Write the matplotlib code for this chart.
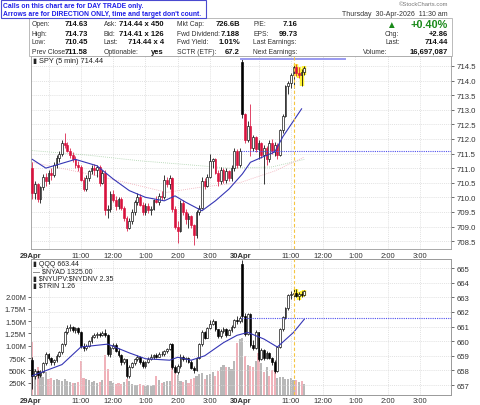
import matplotlib.pyplot as plt
from matplotlib.patches import Rectangle

plt.rcParams['font.family'] = ['Liberation Sans', 'DejaVu Sans']

W, H = 480, 406

# ---- SPY 5 min, 29 Apr (bars 0-77) + 30 Apr (bars 78-101)
spy_open = [711.00, 710.15, 710.45, 709.95, 710.35, 710.70, 710.55, 710.85, 710.75, 711.10,
            711.35, 711.50, 711.85, 711.80, 711.60, 711.45, 711.30, 711.10, 711.05, 710.60,
            710.30, 710.65, 710.90, 711.00, 710.95, 711.05, 710.50, 710.85, 709.55, 709.60,
            710.10, 709.90, 709.70, 709.95, 709.65, 709.30, 708.95, 709.20, 709.50, 709.85,
            710.00, 709.75, 709.50, 709.70, 709.55, 709.60, 709.90, 709.85, 710.05, 710.00,
            710.60, 710.45, 710.65, 709.60, 709.00, 708.85, 709.80, 709.50, 709.25, 709.35,
            709.05, 708.70, 709.50, 709.65, 710.55, 710.40, 710.70, 711.25, 711.30, 710.85,
            710.55, 710.95, 710.60, 710.90, 710.65, 711.00, 711.60, 711.10,
            714.63, 712.85, 711.95, 712.45, 711.70, 712.05, 711.65, 711.85, 711.45, 711.70,
            711.30, 711.85, 711.60, 711.80, 711.45, 712.30, 712.80, 713.80, 713.90, 714.20,
            714.45, 714.25, 714.20, 714.30]
spy_close = [710.15, 710.45, 709.95, 710.35, 710.70, 710.55, 710.85, 710.75, 711.10, 711.35,
             711.50, 711.85, 711.80, 711.60, 711.45, 711.30, 711.10, 711.05, 710.60, 710.30,
             710.65, 710.90, 711.00, 710.95, 711.05, 710.50, 710.85, 709.55, 709.60, 710.10,
             709.90, 709.70, 709.95, 709.65, 709.30, 708.95, 709.20, 709.50, 709.85, 710.00,
             709.75, 709.50, 709.70, 709.55, 709.60, 709.90, 709.85, 710.05, 710.00, 710.60,
             710.45, 710.65, 709.60, 709.00, 708.85, 709.80, 709.50, 709.25, 709.35, 709.05,
             708.70, 709.50, 709.65, 710.55, 710.40, 710.70, 711.25, 711.30, 710.85, 710.55,
             710.95, 710.60, 710.90, 710.65, 711.00, 711.60, 711.10, 711.58,
             712.85, 711.95, 712.45, 711.70, 712.05, 711.65, 711.85, 711.45, 711.70, 711.30,
             711.85, 711.60, 711.80, 711.45, 712.30, 712.80, 713.80, 713.90, 714.20, 714.45,
             714.25, 714.20, 714.30, 714.44]
spy_high = [711.20, 710.55, 710.50, 710.40, 710.80, 710.85, 710.95, 711.00, 711.20, 711.45,
            711.60, 711.95, 712.20, 711.90, 711.70, 711.55, 711.40, 711.25, 711.10, 710.70,
            710.75, 710.95, 711.10, 711.15, 711.10, 711.10, 710.95, 710.95, 709.75, 710.20,
            710.25, 710.05, 710.00, 710.00, 709.70, 709.35, 709.30, 709.60, 709.90, 710.15,
            710.10, 709.85, 709.80, 709.80, 709.70, 709.95, 710.05, 710.15, 710.20, 710.75,
            710.70, 710.75, 710.70, 709.70, 709.20, 709.90, 709.90, 709.60, 709.45, 709.40,
            709.10, 709.55, 709.75, 710.70, 710.65, 710.80, 711.50, 711.35, 711.35, 710.95,
            711.05, 711.00, 711.00, 710.95, 711.10, 711.70, 711.65, 711.70,
            714.73, 712.90, 712.60, 713.20, 712.15, 712.10, 711.95, 711.90, 711.80, 711.75,
            711.95, 712.00, 711.90, 711.85, 712.35, 712.85, 713.85, 714.00, 714.25, 714.55,
            714.55, 714.45, 714.40, 714.50]
spy_low = [709.95, 709.95, 709.85, 709.80, 710.25, 710.40, 710.45, 710.60, 710.70, 711.00,
           711.20, 711.40, 711.70, 711.55, 711.35, 711.20, 711.00, 710.90, 710.55, 710.20,
           710.20, 710.55, 710.80, 710.75, 710.70, 710.40, 710.45, 709.40, 709.30, 709.50,
           709.85, 709.55, 709.60, 709.55, 709.20, 708.85, 708.90, 709.10, 709.40, 709.75,
           709.70, 709.40, 709.40, 709.45, 709.40, 709.55, 709.80, 709.75, 709.90, 709.95,
           710.35, 710.30, 709.50, 708.90, 708.45, 708.80, 709.40, 709.10, 708.95, 708.95,
           708.35, 708.60, 709.40, 709.60, 710.30, 710.35, 710.65, 711.00, 710.80, 710.40,
           710.45, 710.50, 710.50, 710.55, 710.55, 710.90, 711.00, 711.05,
           712.70, 711.85, 711.90, 711.40, 711.60, 711.55, 711.30, 711.35, 710.45, 711.10,
           711.20, 711.50, 711.40, 711.30, 711.40, 712.20, 712.75, 713.55, 713.75, 713.75,
           714.15, 714.10, 713.80, 714.20]
spy_prior = 711.30

spy_ma_x = [0, 5, 16, 24, 30, 36, 42, 49, 53, 57, 63, 68, 73, 78, 81, 86, 90, 93, 100]
spy_ma_y = [711.30, 711.00, 711.30, 711.08, 710.63, 710.23, 710.00, 709.88, 710.05, 709.83,
            709.54, 709.88, 710.28, 710.80, 711.20, 711.40, 711.55, 712.07, 713.03]
spy_ma2_x = [0, 20, 40, 60, 73, 89, 101]
spy_ma2_y = [711.60, 711.45, 711.25, 711.10, 711.00, 711.04, 711.30]
spy_ma3_x = [0, 24, 50, 62, 77, 90, 101]
spy_ma3_y = [711.20, 710.74, 710.17, 710.34, 710.50, 710.90, 711.38]

# ---- QQQ 5 min
qqq_open = [658.70, 657.60, 657.95, 657.70, 657.90, 658.50, 659.15, 658.85, 658.55, 658.70,
            659.00, 659.25, 659.80, 660.60, 660.90, 661.00, 660.75, 660.90, 660.60, 659.70,
            659.50, 659.70, 660.00, 660.30, 660.40, 660.50, 660.40, 660.55, 660.45, 659.15,
            659.55, 659.75, 659.35, 659.05, 658.55, 658.75, 657.60, 658.25, 658.50, 658.75,
            658.95, 658.55, 658.30, 658.60, 658.80, 658.95, 659.05, 658.95, 659.15, 659.10,
            659.30, 659.45, 659.80, 658.25, 657.90, 658.30, 658.95, 658.75, 658.85, 658.60,
            658.20, 658.00, 658.85, 659.80, 660.60, 660.25, 660.90, 661.20, 661.35, 660.80,
            660.35, 660.70, 660.85, 660.45, 660.75, 661.00, 661.45, 661.35,
            665.30, 661.70, 660.50, 661.85, 659.75, 659.55, 660.60, 658.80, 659.40, 658.85,
            659.20, 658.85, 658.55, 657.95, 659.60, 660.80, 661.65, 662.25, 663.15, 663.20,
            663.30, 663.10, 663.25, 663.15]
qqq_close = [657.60, 657.95, 657.70, 657.90, 658.50, 659.15, 658.85, 658.55, 658.70, 659.00,
             659.25, 659.80, 660.60, 660.90, 661.00, 660.75, 660.90, 660.60, 659.70, 659.50,
             659.70, 660.00, 660.30, 660.40, 660.50, 660.40, 660.55, 660.45, 659.15, 659.55,
             659.75, 659.35, 659.05, 658.55, 658.75, 657.60, 658.25, 658.50, 658.75, 658.95,
             658.55, 658.30, 658.60, 658.80, 658.95, 659.05, 658.95, 659.15, 659.10, 659.30,
             659.45, 659.80, 658.25, 657.90, 658.30, 658.95, 658.75, 658.85, 658.60, 658.20,
             658.00, 658.85, 659.80, 660.60, 660.25, 660.90, 661.20, 661.35, 660.80, 660.35,
             660.70, 660.85, 660.45, 660.75, 661.00, 661.45, 661.35, 661.60,
             661.70, 660.50, 661.85, 659.75, 659.55, 660.60, 658.80, 659.40, 658.85, 659.20,
             658.85, 658.55, 657.95, 659.60, 660.80, 661.65, 662.25, 663.15, 663.20, 663.30,
             663.10, 663.25, 663.15, 663.44]
qqq_high = [658.90, 658.10, 658.05, 658.00, 658.60, 659.25, 659.20, 658.95, 658.80, 659.10,
            659.35, 659.90, 660.70, 661.10, 661.15, 661.05, 661.00, 660.95, 660.70, 659.85,
            659.80, 660.10, 660.40, 660.55, 660.60, 660.65, 660.70, 660.85, 660.50, 659.70,
            659.90, 659.85, 659.50, 659.15, 658.85, 658.80, 658.35, 658.60, 658.85, 659.05,
            659.00, 658.70, 658.65, 658.90, 659.10, 659.15, 659.20, 659.25, 659.30, 659.40,
            659.55, 659.90, 659.85, 658.40, 658.45, 659.10, 659.05, 658.95, 658.90, 658.70,
            658.30, 658.95, 659.90, 660.75, 660.70, 661.00, 661.45, 661.55, 661.40, 660.85,
            660.80, 660.95, 660.90, 660.85, 661.10, 661.55, 661.70, 661.75,
            665.55, 661.95, 661.95, 661.90, 660.10, 660.75, 660.65, 659.50, 659.45, 659.30,
            659.25, 658.95, 658.70, 659.70, 660.90, 661.75, 662.35, 663.25, 663.40, 663.65,
            663.55, 663.35, 663.45, 663.50]
qqq_low = [656.70, 657.40, 657.50, 657.55, 657.85, 658.40, 658.70, 658.40, 658.35, 658.60,
           658.90, 659.15, 659.70, 660.50, 660.70, 660.65, 660.55, 660.50, 659.55, 659.35,
           659.40, 659.60, 659.85, 660.20, 660.20, 660.30, 660.35, 660.30, 659.00, 658.90,
           659.45, 659.25, 658.95, 658.40, 658.45, 657.45, 657.50, 658.15, 658.40, 658.65,
           658.45, 658.20, 658.20, 658.50, 658.70, 658.80, 658.85, 658.90, 659.00, 659.00,
           659.20, 659.40, 658.10, 657.80, 657.75, 658.20, 658.65, 658.55, 658.50, 658.10,
           657.85, 657.95, 658.80, 659.70, 660.15, 660.20, 660.85, 661.10, 660.70, 660.20,
           660.25, 660.55, 660.30, 660.40, 660.60, 660.90, 661.20, 661.25,
           661.30, 660.35, 660.40, 659.60, 659.40, 659.45, 658.65, 658.70, 658.70, 658.75,
           658.75, 658.40, 657.80, 657.90, 659.50, 660.70, 661.55, 662.15, 662.90, 663.00,
           663.05, 662.80, 663.00, 663.10]
qqq_prior = 659.00
qqq_vol = [1070, 530, 560, 460, 360, 470, 330, 340, 300, 330,
           310, 280, 330, 290, 260, 250, 240, 260, 700, 350,
           330, 300, 260, 290, 240, 270, 300, 820, 530, 280,
           250, 230, 240, 220, 260, 330, 280, 220, 210, 200,
           220, 200, 190, 200, 190, 210, 390, 300, 250, 260,
           280, 290, 630, 450, 400, 280, 260, 300, 240, 330,
           350, 380, 420, 440, 330, 400, 430, 460, 380, 480,
           560, 600, 570, 560, 520, 700, 1050, 1130,
           1150, 800, 600, 580, 560, 700, 850, 660, 470, 560,
           380, 500, 480, 350, 360, 360, 330, 320, 340, 300,
           310, 260, 280, 230]
qqq_ma_x = [0, 11, 18, 28, 36, 42, 51, 54, 59, 64, 71, 76, 80, 86, 91, 97, 101]
qqq_ma_y = [657.64, 658.40, 659.60, 659.80, 659.20, 658.80, 658.70, 658.90, 658.70, 659.00,
            659.90, 660.40, 660.60, 660.15, 659.60, 660.60, 661.50]

# ---- axis labels
time_pos = [-0.5, 18, 30, 42, 54, 66, 77.5, 96, 108, 120, 132, 144]
time_lab = ['29Apr', '11:00', '12:00', '1:00', '2:00', '3:00', '30Apr',
            '11:00', '12:00', '1:00', '2:00', '3:00']
hour_grid = [6, 18, 30, 42, 54, 66, 84, 96, 108, 120, 132, 144]
spy_ticks = [708.5, 709.0, 709.5, 710.0, 710.5, 711.0, 711.5, 712.0, 712.5, 713.0, 713.5, 714.0, 714.5]
qqq_ticks = [657, 658, 659, 660, 661, 662, 663, 664, 665]
vol_ticks = [250, 500, 750, 1000, 1250, 1500, 1750, 2000]
vol_lab = ['250K', '500K', '750K', '1.00M', '1.25M', '1.50M', '1.75M', '2.00M']
highlight = [98, 99, 100, 101]

RED = '#d8123e'
TXT = '#333333'


def candles(ax, o, h, l, c, prior, use_red=True):
    prev = prior
    for i in range(len(c)):
        col = 'black' if (c[i] >= prev or not use_red) else RED
        if i in highlight:
            ax.vlines(i, l[i], h[i], color='#fff23a', lw=3.2, zorder=2)
        ax.vlines(i, l[i], h[i], color=col, lw=0.55, zorder=3)
        lo, hi = min(o[i], c[i]), max(o[i], c[i])
        face = col if c[i] < o[i] else 'white'
        ax.add_patch(Rectangle((i - 0.33, lo), 0.66, max(hi - lo, 0.01),
                               facecolor=face, edgecolor=col, lw=0.45, zorder=4))
        prev = c[i]


def frame(ax):
    ax.set_xlim(-0.5, 155.5)
    for s in ax.spines.values():
        s.set_color('#9a9a9a')
        s.set_linewidth(0.6)
    ax.set_facecolor('white')


fig = plt.figure(figsize=(4.8, 4.06), dpi=100)

# ---------------- top panel: SPY
ax = fig.add_axes([31 / W, 1 - 250 / H, 420 / W, 193 / H])
frame(ax)
ax.set_ylim(708.23, 714.84)
for x in hour_grid:
    ax.axvline(x, color='#d8d8d8', lw=0.5, ls=(0, (1.5, 1.5)), zorder=0)
for y in spy_ticks:
    ax.axhline(y, color='#d8d8d8', lw=0.5, ls=(0, (1.5, 1.5)), zorder=0)
ax.plot(spy_ma2_x, spy_ma2_y, color='#a8d0a8', lw=0.6, ls=(0, (1, 1.5)), zorder=1)
ax.plot(spy_ma3_x, spy_ma3_y, color='#f0a8b4', lw=0.6, ls=(0, (1, 1.5)), zorder=1)
candles(ax, spy_open, spy_high, spy_low, spy_close, spy_prior)
ax.plot(spy_ma_x, spy_ma_y, color='#3535b5', lw=0.8, zorder=5)
ax.plot([77.5, 116], [714.73, 714.73], color='#9a9af0', lw=1.4, zorder=5)
ax.plot([77.5, 155.5], [711.58, 711.58], color='#5050ee', lw=0.8, ls=(0, (1, 1)), zorder=5)
ax.axvline(97, color='#f5c542', lw=0.8, ls=(0, (3, 2)), zorder=5)
ax.yaxis.tick_right()
ax.set_yticks(spy_ticks)
ax.set_yticklabels([f'{v:.1f}' for v in spy_ticks])
ax.tick_params(axis='y', labelsize=5.6, length=2, width=0.5, pad=2, colors=TXT)
ax.set_xticks(time_pos)
ax.set_xticklabels(time_lab)
ax.tick_params(axis='x', labelsize=5.5, length=0, pad=2.5, colors=TXT)
for t in ax.get_xticklabels():
    if 'Apr' in t.get_text():
        t.set_fontweight('bold')
ax.text(0.004, 0.995, '\u25ae SPY (5 min) 714.44', transform=ax.transAxes,
        fontsize=5.3, va='top', ha='left', color='#222222')

# ---------------- bottom panel: QQQ + volume
axv = fig.add_axes([31 / W, 1 - 396 / H, 420 / W, 136 / H])
frame(axv)
axv.set_ylim(0, 2764)
bar_cols = []
prev = qqq_prior
for i in range(len(qqq_close)):
    bar_cols.append('#f0b2ba' if qqq_close[i] < prev else '#b8b8b8')
    prev = qqq_close[i]
axv.bar(range(len(qqq_vol)), qqq_vol, width=0.8, color=bar_cols, zorder=1)
axv.set_yticks(vol_ticks)
axv.set_yticklabels(vol_lab)
axv.tick_params(axis='y', labelsize=5.5, length=2, width=0.5, pad=1.5, colors=TXT)
axv.set_xticks(time_pos)
axv.set_xticklabels(time_lab)
axv.tick_params(axis='x', labelsize=5.5, length=0, pad=1.5, colors=TXT)
for t in axv.get_xticklabels():
    if 'Apr' in t.get_text():
        t.set_fontweight('bold')

axq = axv.twinx()
frame(axq)
axq.set_ylim(656.32, 665.62)
for x in hour_grid:
    axq.axvline(x, color='#d8d8d8', lw=0.5, ls=(0, (1.5, 1.5)), zorder=0)
for y in qqq_ticks:
    axq.axhline(y, color='#d8d8d8', lw=0.5, ls=(0, (1.5, 1.5)), zorder=0)
candles(axq, qqq_open, qqq_high, qqq_low, qqq_close, qqq_prior, use_red=False)
axq.plot(qqq_ma_x, qqq_ma_y, color='#3535b5', lw=0.8, zorder=5)
axq.plot([77.5, 155.5], [661.60, 661.60], color='#5050ee', lw=0.8, ls=(0, (1, 1)), zorder=5)
axq.axvline(97, color='#f5c542', lw=0.8, ls=(0, (3, 2)), zorder=5)
axq.set_yticks(qqq_ticks)
axq.tick_params(axis='y', labelsize=5.6, length=2, width=0.5, pad=2, colors=TXT)
legend_rows = ['\u25ae QQQ 663.44', '\u2014 \\$NYAD 1325.00',
               '\u25ae \\$NYUPV:\\$NYDNV 2.35', '\u25ae \\$TRIN 1.26']
for k, row in enumerate(legend_rows):
    axq.text(0.004, 0.99 - k * 0.052, row, transform=axq.transAxes,
             fontsize=5, va='top', ha='left', color='#222222')

# ---------------- header
def fx(x):
    return x / W


def fy(y):
    return 1 - y / H


fig.patches.append(Rectangle((fx(29), fy(57)), fx(452) - fx(29), fy(19) - fy(57),
                             transform=fig.transFigure, fill=False, edgecolor='#b0b0b0', lw=0.6))
fig.patches.append(Rectangle((fx(0.5), fy(19)), fx(205), fy(0.5) - fy(19),
                             transform=fig.transFigure, facecolor='white', edgecolor='#4a4ad0',
                             lw=0.8, zorder=5))
fig.text(fx(3), fy(6), 'Calls on this chart are for DAY TRADE only.', fontsize=4.85,
         fontweight='bold', color='#1f1fe8', va='center', zorder=6)
fig.text(fx(3), fy(14), "Arrows are for DIRECTION ONLY, time and target don't count.",
         fontsize=4.85, fontweight='bold', color='#1f1fe8', va='center', zorder=6)

rows_y = [25, 34, 43, 52]
cols = [
    (32, 88, ['Open:', 'High:', 'Low:', 'Prev Close:'], ['714.63', '714.73', '710.45', '711.58']),
    (104, 164, ['Ask:', 'Bid:', 'Last:', 'Optionable:'], ['714.44 x 450', '714.41 x 126', '714.44 x 4', 'yes']),
    (177, 240, ['Mkt Cap:', 'Fwd Dividend:', 'Fwd Yield:', 'SCTR (ETF):'], ['726.6B', '7.188', '1.01%', '67.2']),
    (253, 298, ['P/E:', 'EPS:', 'Last Earnings:', 'Next Earnings:'], ['7.16', '99.73', '', '']),
]
for lx, rx, labs, vals in cols:
    for y, lab, val in zip(rows_y, labs, vals):
        fig.text(fx(lx), fy(y), lab, fontsize=4.9, color='#333333', va='center')
        fig.text(fx(rx), fy(y), val, fontsize=5.5, fontweight='bold', color='#111111',
                 va='center', ha='right')

fig.text(fx(448), fy(5), '\u00a9StockCharts.com', fontsize=4.2, color='#777777', va='center', ha='right')
fig.text(fx(448), fy(15), 'Thursday  30-Apr-2026  11:30 am', fontsize=5, color='#333333',
         va='center', ha='right')
fig.text(fx(391), fy(25), '\u25b2', fontsize=7, color='#1a8a1a', va='center', ha='center')
fig.text(fx(448), fy(25), '+0.40%', fontsize=7.8, fontweight='bold', color='#1a8a1a',
         va='center', ha='right')
fig.text(fx(385), fy(34), 'Chg:', fontsize=4.9, color='#333333', va='center')
fig.text(fx(448), fy(34), '+2.86', fontsize=5.5, fontweight='bold', color='#111111', va='center', ha='right')
fig.text(fx(385), fy(43), 'Last:', fontsize=4.9, color='#333333', va='center')
fig.text(fx(448), fy(43), '714.44', fontsize=5.5, fontweight='bold', color='#111111', va='center', ha='right')
fig.text(fx(363), fy(52), 'Volume:', fontsize=4.9, color='#333333', va='center')
fig.text(fx(448), fy(52), '16,697,087', fontsize=5.5, fontweight='bold', color='#111111',
         va='center', ha='right')

fig.savefig('out.png', dpi=100)
